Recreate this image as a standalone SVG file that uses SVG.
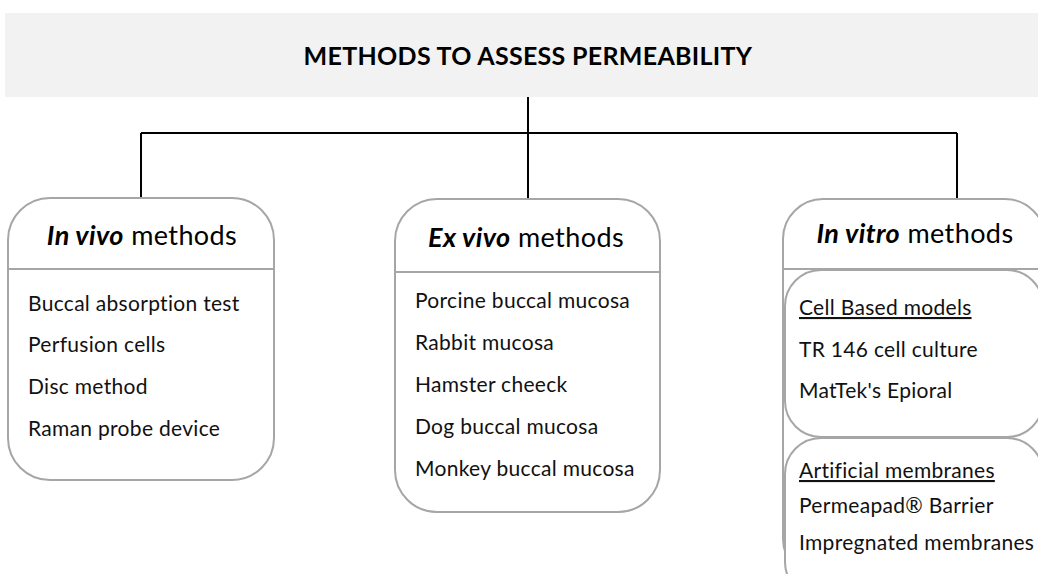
<svg xmlns="http://www.w3.org/2000/svg" width="1038" height="574" viewBox="0 0 1038 574">
<style>
.box{fill:#ffffff;stroke:#a6a6a6;stroke-width:2}
.sep{stroke:#a6a6a6;stroke-width:2}
.conn{stroke:#000000;stroke-width:2;fill:none}
.title{font-family:Lato,"Liberation Sans",sans-serif;font-weight:bold;font-size:25px;letter-spacing:0.3px;fill:#000000}
.hdr{font-family:Lato,"Liberation Sans",sans-serif;font-size:27px;letter-spacing:0.4px;fill:#000000}
.hdr .em{font-weight:bold;font-style:italic}
.item{font-family:Lato,"Liberation Sans",sans-serif;font-size:21px;letter-spacing:0.3px;fill:#111111}
.ul{text-decoration:underline}
</style>
<rect width="1038" height="574" fill="#ffffff"/>
<g id="title">
<rect x="5" y="13" width="1040" height="84" fill="#f2f2f2"/>
<text class="title" x="528" y="65" text-anchor="middle">METHODS TO ASSESS PERMEABILITY</text>
</g>
<g id="connectors">
<path class="conn" d="M528 97 V199"/>
<path class="conn" d="M141 133 H957"/>
<path class="conn" d="M141 133 V198"/>
<path class="conn" d="M957 133 V199"/>
</g>
<g id="in-vivo">
<rect class="box" x="8" y="198" width="266" height="282" rx="42" ry="42"/>
<line class="sep" x1="8" y1="269" x2="274" y2="269"/>
<text class="hdr" x="142" y="245" text-anchor="middle"><tspan class="em">In vivo</tspan> methods</text>
<text class="item" x="28" y="311">Buccal absorption test</text>
<text class="item" x="28" y="352">Perfusion cells</text>
<text class="item" x="28" y="394">Disc method</text>
<text class="item" x="28" y="436">Raman probe device</text>
</g>
<g id="ex-vivo">
<rect class="box" x="395" y="199" width="265" height="313" rx="42" ry="42"/>
<line class="sep" x1="395" y1="272" x2="660" y2="272"/>
<text class="hdr" x="526" y="247" text-anchor="middle"><tspan class="em">Ex vivo</tspan> methods</text>
<text class="item" x="415" y="308">Porcine buccal mucosa</text>
<text class="item" x="415" y="350">Rabbit mucosa</text>
<text class="item" x="415" y="392">Hamster cheeck</text>
<text class="item" x="415" y="434">Dog buccal mucosa</text>
<text class="item" x="415" y="476">Monkey buccal mucosa</text>
</g>
<g id="in-vitro">
<rect class="box" x="783" y="199" width="262" height="380" rx="40" ry="40"/>
<line class="sep" x1="783" y1="269" x2="1045" y2="269"/>
<text class="hdr" x="915" y="243" text-anchor="middle"><tspan class="em">In vitro</tspan> methods</text>
</g>
<g id="cell-based">
<rect class="box" x="785" y="270" width="258" height="167" rx="36" ry="36"/>
<text class="item ul" x="799" y="315">Cell Based models</text>
<text class="item" x="799" y="357">TR 146 cell culture</text>
<text class="item" x="799" y="398">MatTek's Epioral</text>
</g>
<g id="artificial">
<rect class="box" x="785" y="438" width="258" height="160" rx="36" ry="36"/>
<text class="item ul" x="799" y="478">Artificial membranes</text>
<text class="item" x="799" y="513">Permeapad® Barrier</text>
<text class="item" x="799" y="550">Impregnated membranes</text>
</g>
</svg>
